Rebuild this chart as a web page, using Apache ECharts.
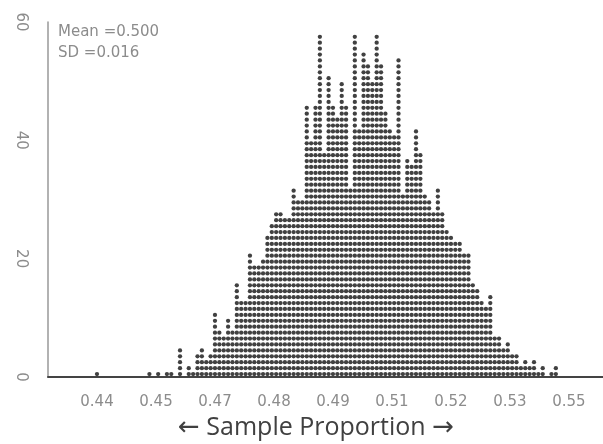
<!DOCTYPE html>
<html>
<head>
<meta charset="utf-8">
<script src="https://cdn.jsdelivr.net/npm/echarts@6/dist/echarts.min.js"></script>
<style>
  html, body { margin: 0; padding: 0; background: #fff; }
  #chart { width: 603px; height: 444px; }
</style>
</head>
<body>
<div id="chart"></div>
<script>
// sample proportions start at 0.440 and go up in steps of 0.001 (one column each)
const firstProportion = 440; // in thousandths
const counts = [
  1, 0, 0, 0, 0, 0, 0, 0, 0, 0,
  0, 0, 1, 0, 1, 0, 1, 1, 0, 5,
  0, 2, 1, 4, 5, 3, 4, 11, 8, 7,
  10, 8, 16, 13, 13, 21, 19, 19, 20, 24,
  26, 28, 28, 27, 27, 32, 30, 30, 46, 40,
  46, 58, 38, 51, 46, 44, 50, 46, 32, 58,
  42, 55, 53, 50, 58, 53, 45, 42, 41, 54,
  31, 37, 36, 42, 38, 31, 30, 28, 32, 28,
  25, 24, 23, 23, 21, 21, 16, 15, 13, 12,
  14, 7, 7, 5, 6, 4, 4, 2, 3, 2,
  3, 1, 2, 0, 1, 2
];
const tickValues = [0.44, 0.4535, 0.467, 0.4805, 0.494, 0.5075, 0.521, 0.5345, 0.548];
const tickLabels = ['0.44', '0.45', '0.47', '0.48', '0.49', '0.51', '0.52', '0.53', '0.55'];
const meanText = 'Mean =0.500';
const sdText = 'SD =0.016';

// one dot per sample, stacked in its column
const dots = [];
counts.forEach(function (c, k) {
  const p = (firstProportion + k) / 1000;
  for (let i = 1; i <= c; i++) {
    dots.push([p, i - 0.5]);
  }
});

const myChart = echarts.init(document.getElementById('chart'));
const grey = '#8c8c8c';

const option = {
  animation: false,
  grid: { left: 48, right: 0, top: 22, bottom: 67 },
  xAxis: {
    type: 'value',
    min: 0.42879,
    max: 0.55579,
    axisLine: { show: true, lineStyle: { color: '#444', width: 2 } },
    axisTick: { show: false },
    splitLine: { show: false },
    axisLabel: {
      customValues: tickValues,
      margin: 18,
      color: grey,
      fontSize: 15,
      fontFamily: 'DejaVu Sans',
      formatter: function (v) {
        for (let i = 0; i < tickValues.length; i++) {
          if (Math.abs(tickValues[i] - v) < 1e-6) return tickLabels[i];
        }
        return '';
      }
    }
  },
  yAxis: {
    type: 'value',
    min: 0,
    max: 60,
    interval: 20,
    axisLine: { show: true, lineStyle: { color: '#999', width: 1.5 } },
    axisTick: { show: false },
    splitLine: { show: false },
    axisLabel: {
      rotate: -90,
      margin: 20,
      color: grey,
      fontSize: 15,
      fontFamily: 'DejaVu Sans'
    }
  },
  graphic: [
    {
      type: 'text', left: 58, top: 25,
      style: { text: meanText, fill: grey, font: '15px "DejaVu Sans"' }
    },
    {
      type: 'text', left: 58, top: 46,
      style: { text: sdText, fill: grey, font: '15px "DejaVu Sans"' }
    },
    {
      type: 'text', x: 316, y: 428,
      style: {
        text: '{a|←} Sample Proportion {a|→}', fill: '#404040',
        font: '25px "Open Sans"', align: 'center', verticalAlign: 'middle',
        rich: {
          a: { font: '26px "DejaVu Sans"', fill: '#404040' }
        }
      }
    }
  ],
  series: [
    {
      type: 'scatter',
      symbol: 'circle',
      symbolSize: 4.3,
      itemStyle: { color: '#111' },
      data: dots
    }
  ]
};
option && myChart.setOption(option);
</script>
</body>
</html>
